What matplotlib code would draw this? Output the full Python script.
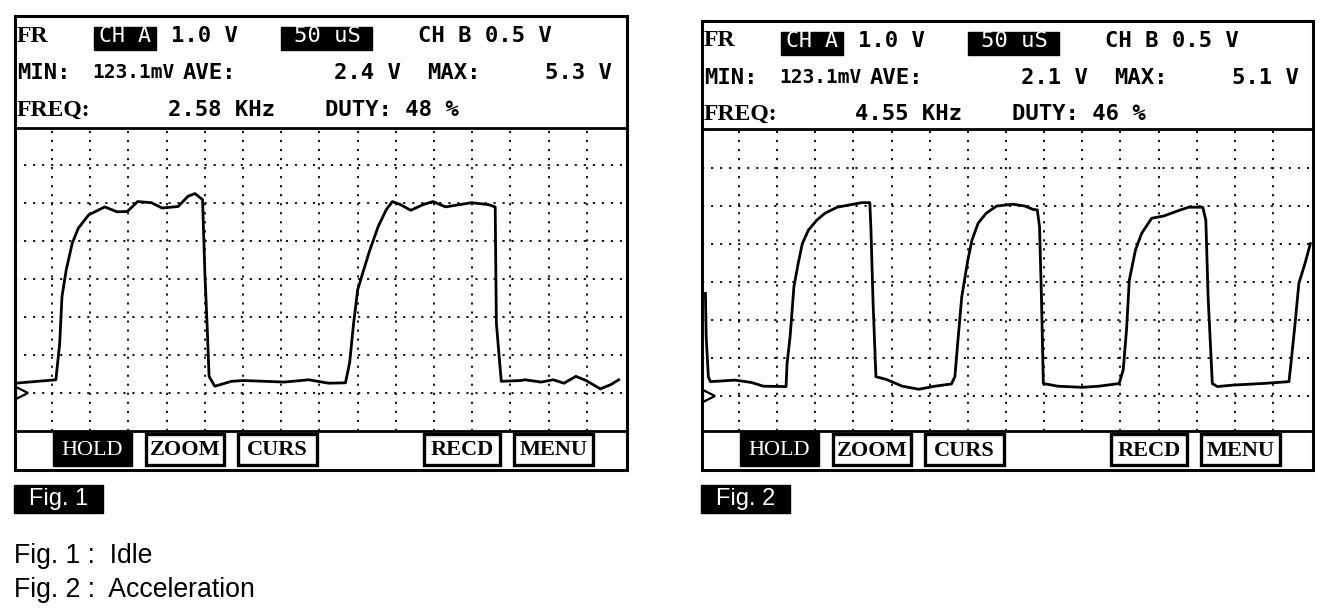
import matplotlib
matplotlib.use("Agg")
import matplotlib.pyplot as plt
from matplotlib.patches import Rectangle

# ---------------- data ----------------
# Fig. 1 (idle) trace: time in microseconds, voltage in volts
t1 = [2, 55, 60, 63, 68.6, 76.5, 84.4, 98, 119, 135, 148.6, 162, 180, 194, 215, 228, 237, 247,
      250, 253, 255.5, 263, 285, 301, 354, 386, 412, 434, 439.5, 444.7, 450, 458, 466, 477,
      487.5, 495.5, 506, 519.5, 535.6, 548.6, 565, 583.6, 599, 621, 630, 631.5, 635.5, 638,
      663.5, 669, 690, 706, 720, 735.6, 749, 767.6, 781, 791.6]
v1 = [0.25, 0.34, 1.3, 2.53, 3.24, 3.94, 4.33, 4.68, 4.89, 4.76, 4.77, 5.03, 5.0, 4.86, 4.9,
      5.17, 5.24, 5.08, 3.15, 1.75, 0.43, 0.17, 0.3, 0.32, 0.28, 0.34, 0.25, 0.26, 0.79, 1.83,
      2.71, 3.24, 3.76, 4.38, 4.82, 5.03, 4.95, 4.8, 4.95, 5.03, 4.89, 4.95, 5.0, 4.95, 4.89,
      1.84, 0.87, 0.3, 0.32, 0.34, 0.28, 0.34, 0.25, 0.43, 0.32, 0.1, 0.21, 0.34]

# Fig. 2 (acceleration) trace
t2 = [6, 7, 9.8, 12.5, 44.6, 66, 82, 111.7, 113, 117, 122, 127.6, 133, 141, 152, 162.6, 178.6,
      194.7, 210.8, 221.5, 223, 225.8, 229.5, 243, 264, 285.8, 307, 328.6, 333, 336.7, 342, 350,
      355.5, 363.5, 374, 387.5, 409, 425, 435.8, 441, 444, 446.5, 449, 468, 500, 521.6, 548.4,
      553.7, 558, 561.7, 569.7, 577.8, 591, 607, 626, 639.5, 658, 662, 665, 670.5, 677, 698,
      736, 771, 773.6, 779, 784, 792, 799]
v2 = [2.69, 1.55, 0.5, 0.37, 0.41, 0.35, 0.25, 0.24, 0.85, 1.55, 2.87, 3.48, 4.0, 4.36, 4.62,
      4.8, 4.96, 5.02, 5.08, 5.08, 4.36, 2.43, 0.5, 0.43, 0.25, 0.17, 0.25, 0.31, 0.5, 1.38,
      2.6, 3.57, 4.1, 4.54, 4.8, 4.99, 5.04, 4.99, 4.9, 4.89, 4.45, 2.6, 0.32, 0.25, 0.22, 0.25,
      0.32, 0.68, 1.73, 3.04, 3.83, 4.27, 4.67, 4.73, 4.87, 4.96, 4.96, 4.62, 2.6, 0.32, 0.24,
      0.28, 0.32, 0.37, 0.85, 1.9, 2.96, 3.48, 4.0]

ch_a_scale = ["1.0 V", "1.0 V"]
time_base = ["50 uS", "50 uS"]
ch_b_scale = ["CH B 0.5 V", "CH B 0.5 V"]
stat_min = ["123.1mV", "123.1mV"]
stat_ave = ["2.4 V", "2.1 V"]
stat_max = ["5.3 V", "5.1 V"]
stat_freq = ["2.58 KHz", "4.55 KHz"]
stat_duty = ["DUTY: 48 %", "DUTY: 46 %"]
buttons = ["HOLD", "ZOOM", "CURS", "RECD", "MENU"]
fig_labels = ["Fig. 1", "Fig. 2"]
captions = ["Fig. 1 :  Idle", "Fig. 2 :  Acceleration"]
traces = [(t1, v1), (t2, v2)]

# ---------------- layout ----------------
W, H = 1344, 616
fig = plt.figure(figsize=(W / 100, H / 100), dpi=100)
fig.patch.set_facecolor("white")

screens = [
    dict(x0=15, x1=627, top=16, sep=128, gbot=430.5, bot=470, gnd=392.7),
    dict(x0=702, x1=1313, top=20.5, sep=129, gbot=431, bot=470, gnd=395.7),
]
DIV = 38.0


def fr(x0, y0, x1, y1):
    return [x0 / W, 1 - y1 / H, (x1 - x0) / W, (y1 - y0) / H]


ov = fig.add_axes([0, 0, 1, 1], zorder=5)
ov.set_xlim(0, W)
ov.set_ylim(H, 0)
ov.axis("off")
ov.patch.set_alpha(0)

mono = "DejaVu Sans Mono"
serif = "Liberation Serif"
sans = "Liberation Sans"
FS = 16


def mtxt(x, y, s, ha="left", fs=FS, color="black", weight="bold", family=mono):
    ov.text(x, y, s, fontfamily=family, fontweight=weight, fontsize=fs, color=color,
            va="center", ha=ha)


for i, s in enumerate(screens):
    x0, x1 = s["x0"], s["x1"]
    ax = fig.add_axes(fr(x0, s["sep"], x1, s["gbot"]), zorder=1)
    ylo = -(s["gbot"] - s["gnd"]) / DIV
    yhi = (s["gnd"] - s["sep"]) / DIV
    ax.set_xlim(1.5, 802.5)
    ax.set_ylim(ylo, yhi)
    ax.set_xticks(range(50, 800, 50))
    ax.set_yticks(range(0, 7))
    ax.grid(True, color="black", linestyle=(0, (1.2, 3.8)), linewidth=1.3)
    ax.tick_params(length=0, labelleft=False, labelbottom=False)
    for sp in ax.spines.values():
        sp.set_linewidth(2.0)
    t, v = traces[i]
    ax.plot(t, v, color="black", linewidth=2.0, solid_joinstyle="round", zorder=3)
    ax.plot([0.012], [0], transform=ax.get_yaxis_transform(), marker=">", ms=9,
            mfc="white", mec="black", mew=1.6, clip_on=False, zorder=4)

    ov.add_patch(Rectangle((x0, s["top"]), x1 - x0, s["bot"] - s["top"], fill=False,
                           lw=2.2, ec="black"))
    top = s["top"]
    y1 = top + 20.5
    y2 = top + 57
    y3 = top + 94
    # line 1
    mtxt(x0 + 2, y1, "FR", family=serif, fs=17)
    ov.add_patch(Rectangle((x0 + 79, top + 11), 62, 23, color="black"))
    mtxt(x0 + 110, y1, "CH A", ha="center", fs=15.5, color="white", weight="normal")
    mtxt(x0 + 156, y1, ch_a_scale[i])
    ov.add_patch(Rectangle((x0 + 266, top + 11), 91, 23, color="black"))
    mtxt(x0 + 312, y1, time_base[i], ha="center", color="white", weight="normal")
    mtxt(x0 + 403, y1, ch_b_scale[i])
    # line 2
    mtxt(x0 + 2, y2, "MIN:")
    mtxt(x0 + 77, y2, stat_min[i], fs=14)
    mtxt(x0 + 168, y2, "AVE:")
    mtxt(x0 + 386, y2, stat_ave[i], ha="right")
    mtxt(x0 + 412, y2, "MAX:")
    mtxt(x0 + 597, y2, stat_max[i], ha="right")
    # line 3
    mtxt(x0 + 2, y3, "FREQ:", family=serif, fs=17)
    mtxt(x0 + 260, y3, stat_freq[i], ha="right")
    mtxt(x0 + 310, y3, stat_duty[i])

    # button bar
    bx = [(37.5, 117), (131, 209), (223, 302), (409, 485), (499, 578)]
    by0, by1 = s["gbot"] + 3, s["bot"] - 5
    for j, (a, b) in enumerate(bx):
        if j == 0:
            ov.add_patch(Rectangle((x0 + a, s["gbot"]), b - a, by1 - s["gbot"] + 1,
                                   color="black"))
            mtxt(x0 + (a + b) / 2, (by0 + by1) / 2 + 1, buttons[j], ha="center",
                 family=serif, fs=16, color="white", weight="normal")
        else:
            ov.add_patch(Rectangle((x0 + a, by0), b - a, by1 - by0, fill=False,
                                   lw=2.4, ec="black"))
            mtxt(x0 + (a + b) / 2, (by0 + by1) / 2 + 1, buttons[j], ha="center",
                 family=serif, fs=16)

    ov.add_patch(Rectangle((x0 - 1, 485), 89, 28, color="black"))
    mtxt(x0 + 43.5, 499.5, fig_labels[i], ha="center", family=sans, fs=17,
         color="white", weight="normal")

mtxt(14, 556, captions[0], family=sans, fs=19.2, weight="normal")
mtxt(14, 590, captions[1], family=sans, fs=19.2, weight="normal")

fig.savefig("out.png", dpi=100, facecolor="white")
